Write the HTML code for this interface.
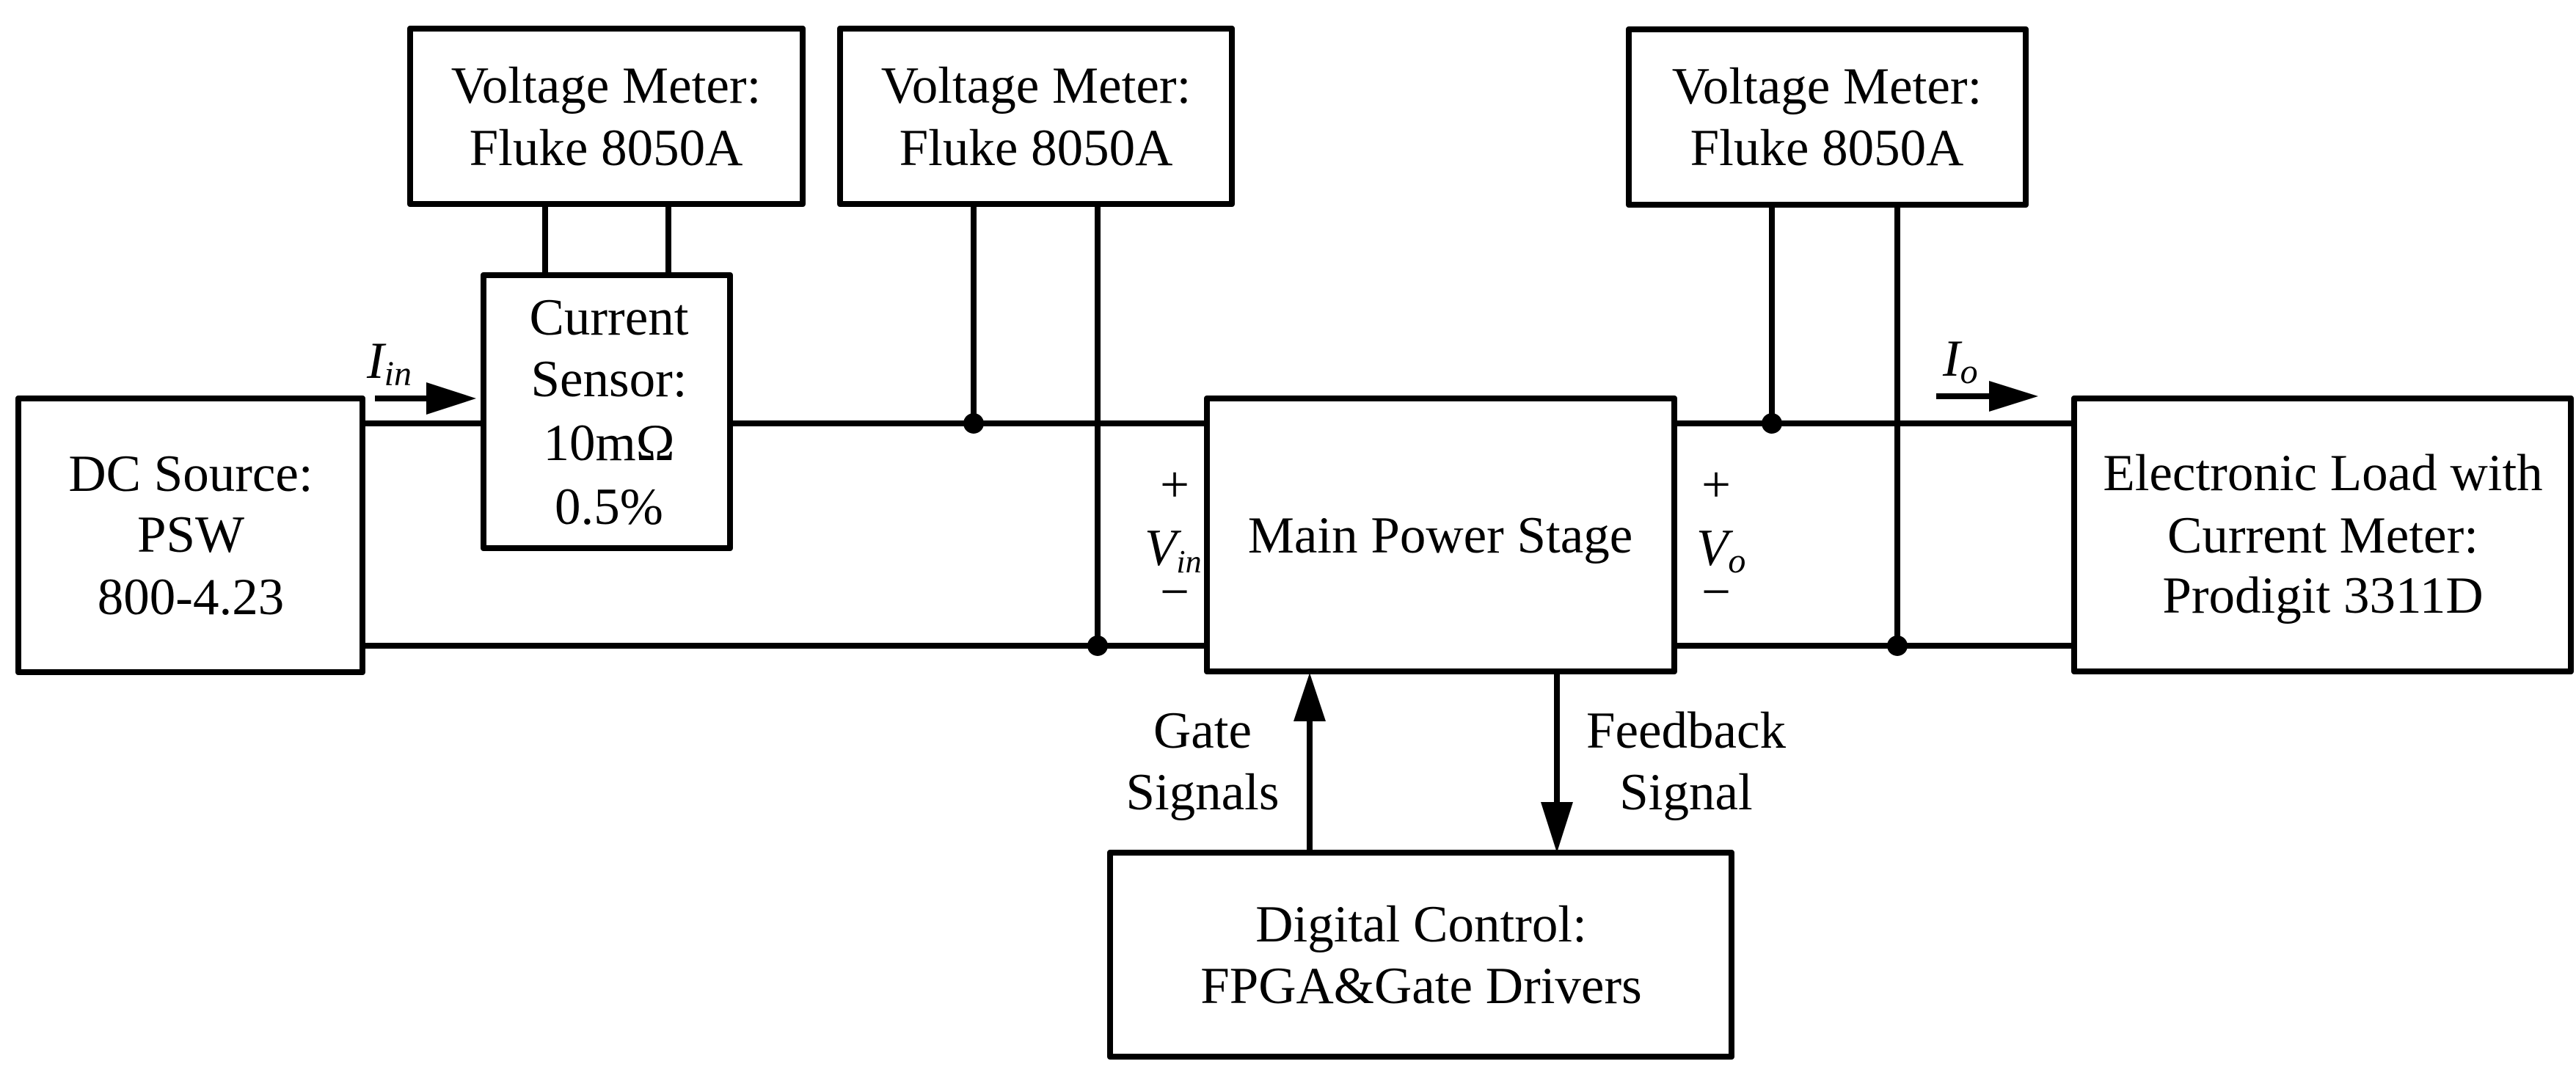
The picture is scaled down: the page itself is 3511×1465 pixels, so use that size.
<!DOCTYPE html>
<html><head><meta charset="utf-8"><style>
html,body{margin:0;padding:0;background:#fff;}
svg{display:block;}
text{font-family:"Liberation Serif",serif;font-size:71px;fill:#000;}
.i{font-style:italic;}
</style></head><body>
<svg width="3511" height="1465" viewBox="0 0 3511 1465" xmlns="http://www.w3.org/2000/svg">
<g fill="none" stroke="#000" stroke-width="8" stroke-linejoin="round">
<rect x="25" y="543" width="469" height="373"/>
<rect x="559" y="39" width="535" height="239"/>
<rect x="1145" y="39" width="534" height="239"/>
<rect x="659" y="375" width="336" height="372"/>
<rect x="2220" y="40" width="541" height="239"/>
<rect x="1645" y="543" width="637" height="372"/>
<rect x="2827" y="543" width="677" height="372"/>
<rect x="1513" y="1162" width="847" height="278"/>
<line x1="494" y1="577" x2="659" y2="577"/>
<line x1="995" y1="577" x2="1645" y2="577"/>
<line x1="494" y1="880" x2="1645" y2="880"/>
<line x1="2282" y1="577" x2="2827" y2="577"/>
<line x1="2282" y1="880" x2="2827" y2="880"/>
<line x1="743" y1="278" x2="743" y2="375"/>
<line x1="911" y1="278" x2="911" y2="375"/>
<line x1="1327" y1="278" x2="1327" y2="577"/>
<line x1="1496" y1="278" x2="1496" y2="880"/>
<line x1="2415" y1="279" x2="2415" y2="577"/>
<line x1="2586" y1="279" x2="2586" y2="880"/>
<line x1="1785" y1="980" x2="1785" y2="1162"/>
<line x1="2122" y1="915" x2="2122" y2="1100"/>
<line x1="511" y1="543" x2="590" y2="543"/>
<line x1="2639" y1="540" x2="2720" y2="540"/>
</g>
<g fill="#000">
<circle cx="1327" cy="577" r="14"/>
<circle cx="1496" cy="880" r="14"/>
<circle cx="2415" cy="577" r="14"/>
<circle cx="2586" cy="880" r="14"/>
<polygon points="1785,917 1763,983 1807,983"/>
<polygon points="2122,1162 2100,1093 2144,1093"/>
<polygon points="649,543 581,521 581,565"/>
<polygon points="2778,540 2711,519 2711,561"/>
</g>
<g text-anchor="middle">
<text x="826" y="140">Voltage Meter:</text>
<text x="826" y="225">Fluke 8050A</text>
<text x="1412" y="140">Voltage Meter:</text>
<text x="1412" y="225">Fluke 8050A</text>
<text x="2490" y="141">Voltage Meter:</text>
<text x="2490" y="225">Fluke 8050A</text>
<text x="830" y="456">Current</text>
<text x="830" y="540">Sensor:</text>
<text x="830" y="627">10mΩ</text>
<text x="830" y="714">0.5%</text>
<text x="260" y="669">DC Source:</text>
<text x="260" y="752">PSW</text>
<text x="260" y="837">800-4.23</text>
<text x="1963" y="753">Main Power Stage</text>
<text x="3166" y="668">Electronic Load with</text>
<text x="3166" y="753">Current Meter:</text>
<text x="3166" y="835">Prodigit 3311D</text>
<text x="1639" y="1019">Gate</text>
<text x="1639" y="1103">Signals</text>
<text x="2298" y="1019">Feedback</text>
<text x="2298" y="1103">Signal</text>
<text x="1937" y="1283">Digital Control:</text>
<text x="1937" y="1367">FPGA&amp;Gate Drivers</text>
<text x="1601" y="684">+</text>
<text x="1601" y="830">−</text>
<text x="2339" y="684">+</text>
<text x="2339" y="830">−</text>
</g>
<text class="i" x="1560" y="770">V<tspan font-size="44" dy="10">in</tspan></text>
<text class="i" x="2312" y="770">V<tspan font-size="48" dy="10">o</tspan></text>
<text class="i" x="500" y="515">I<tspan font-size="48" dy="10">in</tspan></text>
<text class="i" x="2648" y="512">I<tspan font-size="48" dy="10">o</tspan></text>
</svg>
</body></html>
